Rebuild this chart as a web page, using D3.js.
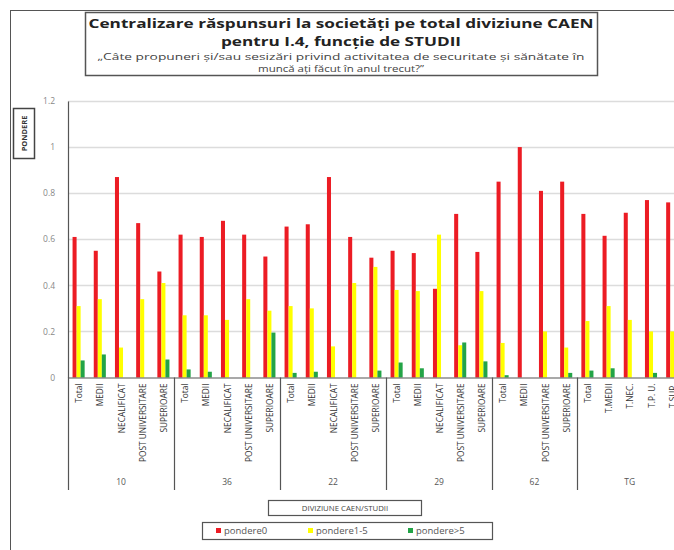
<!DOCTYPE html>
<html>
<head>
<meta charset="utf-8">
<script src="https://cdn.jsdelivr.net/npm/d3@7"></script>
<style>
  html, body { margin: 0; padding: 0; background: #fff; }
  svg { display: block; }
  text { font-family: "Open Sans", "DejaVu Sans", sans-serif; }
</style>
</head>
<body>
<svg id="chart" width="674" height="550"></svg>
<script>
// Groups (diviziune CAEN) and their study-level categories
const groups = ["10", "36", "22", "29", "62", "TG"];
const groupCategories = [
  ["Total", "MEDII", "NECALIFICAT", "POST UNIVERSITARE", "SUPERIOARE"],
  ["Total", "MEDII", "NECALIFICAT", "POST UNIVERSITARE", "SUPERIOARE"],
  ["Total", "MEDII", "NECALIFICAT", "POST UNIVERSITARE", "SUPERIOARE"],
  ["Total", "MEDII", "NECALIFICAT", "POST UNIVERSITARE", "SUPERIOARE"],
  ["Total", "MEDII", "POST UNIVERSITARE", "SUPERIOARE"],
  ["Total", "T.MEDII", "T.NEC.", "T.P. U.", "T.SUP."]
];

// Series values, one per category in the order above
const pondere0 = [
  0.61, 0.55, 0.87, 0.67, 0.46,
  0.62, 0.61, 0.68, 0.62, 0.525,
  0.655, 0.665, 0.87, 0.61, 0.52,
  0.55, 0.54, 0.385, 0.71, 0.545,
  0.85, 1.0, 0.81, 0.85,
  0.71, 0.615, 0.715, 0.77, 0.76
];
const pondere1_5 = [
  0.31, 0.34, 0.13, 0.34, 0.41,
  0.27, 0.27, 0.25, 0.34, 0.29,
  0.31, 0.30, 0.135, 0.41, 0.48,
  0.38, 0.375, 0.62, 0.14, 0.375,
  0.15, 0, 0.20, 0.13,
  0.245, 0.31, 0.25, 0.20, 0.20
];
const pondere5 = [
  0.074, 0.10, 0, 0, 0.078,
  0.035, 0.025, 0, 0, 0.195,
  0.02, 0.025, 0, 0, 0.03,
  0.065, 0.04, 0, 0.152, 0.07,
  0.01, 0, 0, 0.02,
  0.03, 0.04, 0, 0.02, 0
];

const seriesNames = ["pondere0", "pondere1-5", "pondere>5"];
const seriesColors = ["#ec1c24", "#ffff00", "#23a447"];
const yTicks = [0, 0.2, 0.4, 0.6, 0.8, 1, 1.2];

// Flattened category list
const cats = [];
groupCategories.forEach((list, gi) => list.forEach(name => cats.push({ group: gi, name })));
const seriesData = [pondere0, pondere1_5, pondere5];

const svg = d3.select("#chart");

// Outer frame
svg.append("rect").attr("x", 10.5).attr("y", 10.5).attr("width", 700).attr("height", 600)
  .attr("fill", "none").attr("stroke", "#555").attr("stroke-width", 1);

// Title box
const tBox = svg.append("g");
tBox.append("rect").attr("x", 85.5).attr("y", 12.5).attr("width", 512).attr("height", 63)
  .attr("fill", "#fff").attr("stroke", "#555").attr("stroke-width", 1.5);
const titleLines = [
  { t: "Centralizare răspunsuri la societăți pe total diviziune CAEN", y: 28, size: 13, bold: true, len: 505, fill: "#222" },
  { t: "pentru I.4, funcție de STUDII", y: 46, size: 13, bold: true, len: 240, fill: "#222" },
  { t: "„Câte propuneri și/sau sesizări privind activitatea de securitate și sănătate în", y: 60, size: 8.5, bold: false, len: 487, fill: "#444" },
  { t: "muncă ați făcut în anul trecut?”", y: 72, size: 8.5, bold: false, len: 166, fill: "#444" }
];
titleLines.forEach(l => {
  tBox.append("text").attr("x", 341).attr("y", l.y).attr("text-anchor", "middle")
    .attr("font-size", l.size).attr("font-weight", l.bold ? "bold" : "normal")
    .attr("fill", l.fill).attr("textLength", l.len).attr("lengthAdjust", "spacingAndGlyphs")
    .text(l.t);
});

// Scales
const x0 = 68, y0 = 377.5;
const step = 21.2;
const x = d3.scaleBand().domain(d3.range(cats.length))
  .range([x0, x0 + step * cats.length]).paddingInner(0.43).paddingOuter(0.215);
const xs = d3.scaleBand().domain(d3.range(3)).range([0, x.bandwidth()]);
const y = d3.scaleLinear().domain([0, 1.2]).range([y0, 101]);

// Gridlines
svg.append("g").selectAll("line").data(yTicks.slice(1)).join("line")
  .attr("x1", x0).attr("x2", 674)
  .attr("y1", d => Math.round(y(d)) + 0.5).attr("y2", d => Math.round(y(d)) + 0.5)
  .attr("stroke", "#dcdcdc").attr("stroke-width", 1.5);

// Y axis
const yAxis = d3.axisLeft(y).tickValues(yTicks).tickSize(0).tickPadding(13)
  .tickFormat(d => String(d));
const yg = svg.append("g").attr("transform", `translate(${x0},0)`).call(yAxis);
yg.select(".domain").attr("stroke", "#555").attr("stroke-width", 1.2);
yg.selectAll("text").attr("font-size", 8.5).attr("fill", "#888")
  .style("font-family", "'Open Sans', sans-serif");

// Y axis title
const yt = svg.append("g");
yt.append("rect").attr("x", 13.5).attr("y", 108.5).attr("width", 21).attr("height", 50)
  .attr("fill", "#fff").attr("stroke", "#444").attr("stroke-width", 1.5);
yt.append("text").attr("transform", "translate(27,133.5) rotate(-90)")
  .attr("text-anchor", "middle").attr("font-size", 7.5).attr("font-weight", "bold")
  .attr("fill", "#333").text("PONDERE");

// Bars
const barG = svg.append("g");
seriesData.forEach((vals, si) => {
  barG.append("g").selectAll("rect").data(vals).join("rect")
    .attr("x", (d, i) => x(i) + xs(si))
    .attr("width", xs.bandwidth())
    .attr("y", d => y(d))
    .attr("height", d => y0 - y(d))
    .attr("fill", seriesColors[si]);
});

// X baseline
svg.append("line").attr("x1", x0).attr("x2", 674).attr("y1", y0 + 0.5).attr("y2", y0 + 0.5)
  .attr("stroke", "#555").attr("stroke-width", 1.2);

// Category labels
svg.append("g").selectAll("text").data(cats).join("text")
  .attr("transform", (d, i) => `translate(${x(i) + x.bandwidth() / 2 + 3.5},${y0 + 6}) rotate(-90)`)
  .attr("text-anchor", "end").attr("font-size", 8.3).attr("fill", "#333")
  .text(d => d.name);

// Group separators and group labels
let start = 0;
const bounds = [];
groupCategories.forEach((list, gi) => {
  bounds.push({ gi, s: start, e: start + list.length });
  start += list.length;
});
const sepX = i => x0 + step * i;
svg.append("g").selectAll("line").data([0, ...bounds.map(b => b.e)]).join("line")
  .attr("x1", d => Math.round(sepX(d)) + 0.5).attr("x2", d => Math.round(sepX(d)) + 0.5)
  .attr("y1", y0).attr("y2", 490)
  .attr("stroke", "#555").attr("stroke-width", 1.2);
svg.append("g").selectAll("text").data(bounds).join("text")
  .attr("x", b => (sepX(b.s) + sepX(b.e)) / 2)
  .attr("y", 485).attr("text-anchor", "middle")
  .attr("font-size", 8.5).attr("fill", "#555")
  .text(b => groups[b.gi]);

// X axis title
const xt = svg.append("g");
xt.append("rect").attr("x", 268.5).attr("y", 500.5).attr("width", 153).attr("height", 15)
  .attr("fill", "#fff").attr("stroke", "#555").attr("stroke-width", 1.2);
xt.append("text").attr("x", 345).attr("y", 511).attr("text-anchor", "middle")
  .attr("font-size", 7.8).attr("fill", "#444").text("DIVIZIUNE CAEN/STUDII");

// Legend
const lg = svg.append("g");
lg.append("rect").attr("x", 202.5).attr("y", 522.5).attr("width", 290).attr("height", 17)
  .attr("fill", "#fff").attr("stroke", "#555").attr("stroke-width", 1.2);
const legendX = [216, 308, 408];
seriesNames.forEach((name, i) => {
  lg.append("rect").attr("x", legendX[i]).attr("y", 528).attr("width", 5).attr("height", 5)
    .attr("fill", seriesColors[i]);
  lg.append("text").attr("x", legendX[i] + 8).attr("y", 534)
    .attr("font-size", 9.5).attr("fill", "#555").text(name);
});
</script>
</body>
</html>
